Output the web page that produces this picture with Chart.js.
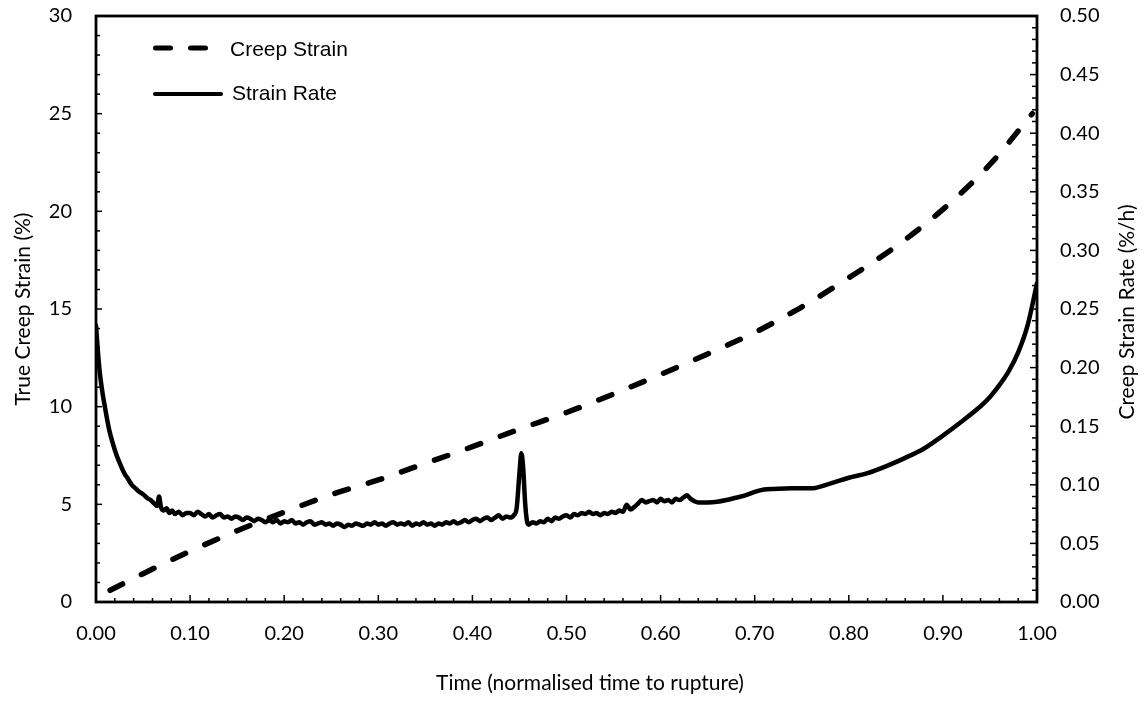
<!DOCTYPE html>
<html>
<head>
<meta charset="utf-8">
<script src="https://cdn.jsdelivr.net/npm/chart.js@4/dist/chart.umd.min.js"></script>
<style>
  html, body { margin: 0; padding: 0; background: #fff; }
  #c { display: block; }
</style>
</head>
<body>
<canvas id="c" width="1145" height="708"></canvas>
<script>
// creep strain (left axis, %)
const strainTime = [0.015, 0.05, 0.10, 0.15, 0.20, 0.25, 0.30, 0.35, 0.40, 0.45, 0.50,
  0.55, 0.60, 0.65, 0.70, 0.75, 0.80, 0.85, 0.90, 0.95, 0.995];
const strainValues = [0.6, 1.45, 2.6, 3.65, 4.6, 5.5, 6.25, 7.1, 7.95, 8.85, 9.7,
  10.65, 11.65, 12.7, 13.8, 15.1, 16.6, 18.2, 20.1, 22.4, 25.0];

// creep strain rate (right axis, %/h)
const rateTime = [
  0.000, 0.002, 0.004, 0.007, 0.010, 0.014, 0.018, 0.022, 0.026, 0.030,
  0.034, 0.038, 0.042, 0.046, 0.050, 0.054, 0.058, 0.062, 0.065, 0.067,
  0.069, 0.072, 0.075, 0.078, 0.081, 0.084, 0.088, 0.092, 0.096, 0.100,
  0.104, 0.108, 0.112, 0.116, 0.120, 0.124, 0.128, 0.132, 0.136, 0.140,
  0.144, 0.148, 0.152, 0.156, 0.160, 0.164, 0.168, 0.172, 0.176, 0.180,
  0.184, 0.188, 0.192, 0.196, 0.200, 0.204, 0.208, 0.212, 0.216, 0.220,
  0.224, 0.228, 0.232, 0.236, 0.240, 0.244, 0.248, 0.252, 0.256, 0.260,
  0.264, 0.268, 0.272, 0.276, 0.280, 0.284, 0.288, 0.292, 0.296, 0.300,
  0.304, 0.308, 0.312, 0.316, 0.320, 0.324, 0.328, 0.332, 0.336, 0.340,
  0.344, 0.348, 0.352, 0.356, 0.360, 0.364, 0.368, 0.372, 0.376, 0.380,
  0.384, 0.388, 0.392, 0.396, 0.400, 0.404, 0.408, 0.412, 0.416, 0.420,
  0.424, 0.428, 0.432, 0.436, 0.440, 0.444, 0.447, 0.450, 0.452, 0.454,
  0.456, 0.458, 0.460, 0.464, 0.468, 0.472, 0.476, 0.480, 0.484, 0.488,
  0.492, 0.496, 0.500, 0.504, 0.508, 0.512, 0.516, 0.520, 0.524, 0.528,
  0.532, 0.536, 0.540, 0.544, 0.548, 0.552, 0.556, 0.560, 0.564, 0.568,
  0.572, 0.576, 0.580, 0.584, 0.588, 0.592, 0.596, 0.600, 0.604, 0.608,
  0.612, 0.616, 0.620, 0.624, 0.628, 0.632, 0.636, 0.640, 0.650, 0.660,
  0.670, 0.680, 0.690, 0.700, 0.710, 0.720, 0.740, 0.760, 0.780, 0.800,
  0.820, 0.840, 0.860, 0.880, 0.900, 0.920, 0.940, 0.950, 0.960, 0.970,
  0.980, 0.990, 1.000
];
const rateValues = [
  0.236, 0.214, 0.196, 0.178, 0.164, 0.147, 0.135, 0.125, 0.117, 0.110,
  0.105, 0.100, 0.097, 0.094, 0.092, 0.089, 0.087, 0.084, 0.082, 0.090,
  0.081, 0.078, 0.080, 0.076, 0.078, 0.075, 0.077, 0.074, 0.076, 0.076,
  0.074, 0.077, 0.075, 0.073, 0.075, 0.072, 0.074, 0.075, 0.072, 0.073,
  0.071, 0.073, 0.072, 0.070, 0.072, 0.071, 0.069, 0.071, 0.070, 0.068,
  0.070, 0.068, 0.070, 0.067, 0.069, 0.068, 0.070, 0.067, 0.068, 0.066,
  0.068, 0.069, 0.066, 0.067, 0.068, 0.066, 0.067, 0.065, 0.067, 0.066,
  0.064, 0.066, 0.065, 0.067, 0.066, 0.065, 0.067, 0.066, 0.068, 0.066,
  0.067, 0.065, 0.067, 0.068, 0.066, 0.067, 0.066, 0.068, 0.065, 0.067,
  0.066, 0.068, 0.066, 0.067, 0.065, 0.067, 0.066, 0.068, 0.067, 0.069,
  0.067, 0.068, 0.070, 0.068, 0.070, 0.071, 0.069, 0.071, 0.072, 0.070,
  0.072, 0.074, 0.071, 0.073, 0.072, 0.074, 0.080, 0.110, 0.127, 0.114,
  0.085, 0.069, 0.066, 0.068, 0.067, 0.069, 0.068, 0.071, 0.069, 0.072,
  0.071, 0.073, 0.074, 0.072, 0.075, 0.074, 0.076, 0.075, 0.077, 0.075,
  0.076, 0.074, 0.076, 0.075, 0.077, 0.076, 0.078, 0.077, 0.083, 0.079,
  0.081, 0.084, 0.087, 0.085, 0.086, 0.087, 0.085, 0.088, 0.086, 0.087,
  0.085, 0.088, 0.087, 0.089, 0.091, 0.088, 0.086, 0.085, 0.085, 0.0855,
  0.087, 0.089, 0.091, 0.094, 0.096, 0.0965, 0.097, 0.097, 0.101, 0.106,
  0.110, 0.116, 0.123, 0.131, 0.142, 0.154, 0.167, 0.175, 0.185, 0.197,
  0.213, 0.236, 0.272
];

const seriesNames = ['Creep Strain', 'Strain Rate'];

const fmt2 = v => Number(v).toFixed(2);

// inside ticks, frame, axis titles and legend
const framePlugin = {
  id: 'frame',
  afterDraw(chart) {
    const { ctx, chartArea: a, scales } = chart;
    const seg = (x1, y1, x2, y2) => { ctx.beginPath(); ctx.moveTo(x1, y1); ctx.lineTo(x2, y2); ctx.stroke(); };
    ctx.save();
    ctx.strokeStyle = '#000';
    ctx.lineWidth = 1.5;
    for (let i = 0; i <= 50; i++) {
      const px = scales.x.getPixelForValue(i * 0.02);
      seg(px, a.bottom, px, a.bottom - (i % 5 === 0 ? 7 : 4));
    }
    for (let i = 0; i <= 30; i++) {
      const py = scales.y.getPixelForValue(i);
      seg(a.left, py, a.left + (i % 5 === 0 ? 6 : 4), py);
    }
    for (let i = 0; i <= 50; i++) {
      const py = scales.y2.getPixelForValue(i * 0.01);
      seg(a.right, py, a.right - (i % 5 === 0 ? 7 : 5), py);
    }
    ctx.lineWidth = 2.8;
    ctx.strokeRect(a.left, a.top, a.right - a.left, a.bottom - a.top);

    // axis titles
    ctx.fillStyle = '#000';
    ctx.font = '21px Lato';
    ctx.textAlign = 'center';
    ctx.textBaseline = 'middle';
    ctx.fillText('Time (normalised time to rupture)', 590, 683);
    ctx.save();
    ctx.translate(23, (a.top + a.bottom) / 2);
    ctx.rotate(-Math.PI / 2);
    ctx.fillText('True Creep Strain (%)', 0, 0);
    ctx.restore();
    ctx.save();
    ctx.translate(1127, (a.top + a.bottom) / 2 + 3);
    ctx.rotate(-Math.PI / 2);
    ctx.fillText('Creep Strain Rate (%/h)', 0, 0);
    ctx.restore();

    // legend
    ctx.lineCap = 'round';
    ctx.lineWidth = 5;
    ctx.setLineDash([15, 20]);
    seg(155.5, 48, 210, 48);
    ctx.setLineDash([]);
    ctx.lineWidth = 4;
    seg(155, 94, 221, 94);
    ctx.font = '21px "Liberation Sans", Arial, sans-serif';
    ctx.textAlign = 'left';
    ctx.fillText(seriesNames[0], 230, 50);
    ctx.fillText(seriesNames[1], 232, 94);
    ctx.restore();
  }
};

Chart.defaults.font.family = 'Lato';
Chart.defaults.font.size = 20;
Chart.defaults.color = '#000';

const noOverhang = s => { s.paddingTop = 0; s.paddingBottom = 0; };

new Chart(document.getElementById('c'), {
  type: 'line',
  data: {
    datasets: [
      {
        label: seriesNames[0],
        data: strainTime.map((t, i) => ({ x: t, y: strainValues[i] })),
        yAxisID: 'y',
        borderColor: '#000',
        borderWidth: 5.5,
        borderDash: [14, 21],
        borderCapStyle: 'round',
        cubicInterpolationMode: 'monotone',
        pointRadius: 0,
        fill: false
      },
      {
        label: seriesNames[1],
        data: rateTime.map((t, i) => ({ x: t, y: rateValues[i] })),
        yAxisID: 'y2',
        borderColor: '#000',
        borderWidth: 4.5,
        borderJoinStyle: 'round',
        borderCapStyle: 'round',
        cubicInterpolationMode: 'monotone',
        pointRadius: 0,
        fill: false
      }
    ]
  },
  options: {
    responsive: false,
    animation: false,
    devicePixelRatio: 1,
    layout: { padding: { top: 16, left: 0, right: 0, bottom: 0 } },
    plugins: { legend: { display: false }, tooltip: { enabled: false } },
    scales: {
      x: {
        type: 'linear',
        min: 0, max: 1,
        grid: { display: false, drawTicks: false },
        border: { display: false },
        ticks: { stepSize: 0.1, padding: 20, maxRotation: 0, callback: fmt2 },
        afterFit: s => { s.height = 106; }
      },
      y: {
        position: 'left',
        min: 0, max: 30,
        grid: { display: false, drawTicks: false },
        border: { display: false },
        ticks: { stepSize: 5, padding: 24 },
        afterFit: s => { s.width = 96; noOverhang(s); }
      },
      y2: {
        position: 'right',
        min: 0, max: 0.5,
        grid: { display: false, drawTicks: false },
        border: { display: false },
        ticks: { stepSize: 0.05, padding: 23, callback: fmt2 },
        afterFit: s => { s.width = 108; noOverhang(s); }
      }
    }
  },
  plugins: [framePlugin]
});
</script>
</body>
</html>
